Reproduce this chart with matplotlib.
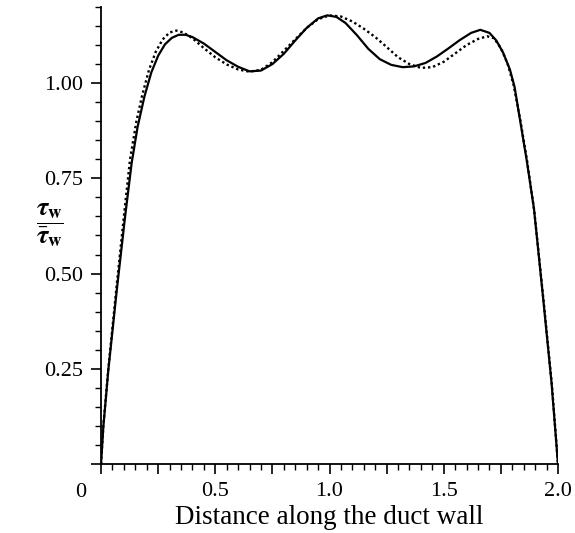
import matplotlib
matplotlib.use("Agg")
import matplotlib.pyplot as plt
from matplotlib.ticker import MultipleLocator, FuncFormatter

plt.rcParams['font.family'] = ['Liberation Serif', 'DejaVu Serif']
plt.rcParams['mathtext.fontset'] = 'stix'

# wall shear stress, solid curve
x_solid = [0.0, 0.01, 0.032, 0.069, 0.105, 0.134, 0.16, 0.19, 0.22, 0.25,
           0.28, 0.31, 0.34, 0.37, 0.40, 0.45, 0.50, 0.55, 0.60, 0.65,
           0.70, 0.75, 0.80, 0.85, 0.90, 0.95, 0.99, 1.03, 1.07, 1.12,
           1.17, 1.22, 1.27, 1.32, 1.37, 1.42, 1.47, 1.52, 1.57, 1.62,
           1.66, 1.70, 1.73, 1.76, 1.79, 1.81, 1.834, 1.863, 1.895, 1.936,
           1.972, 2.0]
y_solid = [0.0, 0.097, 0.247, 0.457, 0.648, 0.790, 0.885, 0.965, 1.028, 1.072,
           1.102, 1.119, 1.127, 1.127, 1.121, 1.104, 1.082, 1.060, 1.043, 1.031,
           1.033, 1.050, 1.077, 1.112, 1.145, 1.170, 1.178, 1.174, 1.158, 1.126,
           1.090, 1.063, 1.048, 1.042, 1.044, 1.053, 1.070, 1.091, 1.113, 1.132,
           1.140, 1.132, 1.112, 1.080, 1.035, 0.990, 0.903, 0.798, 0.670, 0.430,
           0.212, 0.0]

# dotted curve
x_dot = [0.0, 0.01, 0.032, 0.067, 0.10, 0.127, 0.155, 0.18, 0.21, 0.24,
         0.27, 0.30, 0.33, 0.36, 0.40, 0.45, 0.50, 0.55, 0.60, 0.65,
         0.70, 0.75, 0.80, 0.85, 0.90, 0.95, 1.00, 1.05, 1.10, 1.15,
         1.20, 1.25, 1.30, 1.35, 1.40, 1.45, 1.50, 1.55, 1.60, 1.65,
         1.69, 1.72, 1.75, 1.78, 1.806, 1.836, 1.865, 1.896, 1.937, 1.973,
         2.0]
y_dot = [0.0, 0.10, 0.25, 0.46, 0.65, 0.80, 0.90, 0.968, 1.035, 1.083,
         1.115, 1.133, 1.138, 1.133, 1.118, 1.092, 1.068, 1.049, 1.036, 1.030,
         1.035, 1.055, 1.085, 1.115, 1.145, 1.168, 1.178, 1.175, 1.162, 1.143,
         1.121, 1.095, 1.068, 1.050, 1.040, 1.042, 1.056, 1.078, 1.100, 1.116,
         1.123, 1.118, 1.092, 1.050, 0.995, 0.900, 0.795, 0.665, 0.428, 0.210,
         0.0]

fig = plt.figure(figsize=(5.75, 5.33), dpi=100)
ax = fig.add_axes([0.1757, 0.1295, 0.7947, 0.8574])

ax.plot(x_solid, y_solid, color='black', lw=1.6, solid_joinstyle='round')
ax.plot(x_dot, y_dot, color='black', lw=1.7, linestyle=(0, (1, 1.2)))

ax.set_xlim(0, 2.0)
ax.set_ylim(0, 1.2)
for s in ['top', 'right']:
    ax.spines[s].set_visible(False)
for s in ['left', 'bottom']:
    ax.spines[s].set_linewidth(1.3)

ax.xaxis.set_major_locator(MultipleLocator(0.25))
ax.xaxis.set_minor_locator(MultipleLocator(0.05))
ax.yaxis.set_major_locator(MultipleLocator(0.25))
ax.yaxis.set_minor_locator(MultipleLocator(0.05))

def xfmt(v, pos):
    if v < 0.01 or abs(v / 0.5 - round(v / 0.5)) > 0.01:
        return ''
    return '%.1f' % v

def yfmt(v, pos):
    if v < 0.01:
        return ''
    return '%.2f' % v

ax.xaxis.set_major_formatter(FuncFormatter(xfmt))
ax.yaxis.set_major_formatter(FuncFormatter(yfmt))
ax.tick_params(which='major', direction='out', length=7, width=1.2,
               labelsize=16, pad=6)
ax.tick_params(which='minor', direction='out', length=4.5, width=1.0)

ax.annotate('0', xy=(0, 0), xycoords='data', xytext=(-15, -13.5),
            textcoords='offset points', ha='center', va='top', fontsize=16)

ax.set_xlabel('Distance along the duct wall', fontsize=19.5, labelpad=3)
fig.text(0.087, 0.578,
         r'$\dfrac{\mathbfit{\tau}_\mathbf{w}}{\bar{\mathbfit{\tau}}_\mathbf{w}}$',
         fontsize=19, ha='center', va='center')

fig.savefig('out.png', dpi=100)
